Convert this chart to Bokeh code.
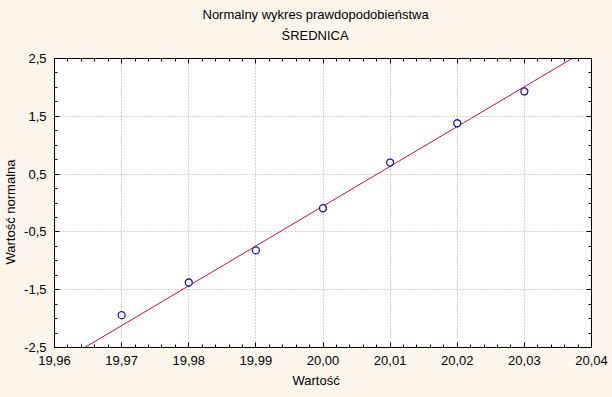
from bokeh.plotting import figure
from bokeh.models import (FixedTicker, CustomJSTickFormatter, LinearAxis, Title,
                          Range1d)
from bokeh.embed import file_html
from bokeh.resources import INLINE

# ---- data ----
x_vals = [19.97, 19.98, 19.99, 20.00, 20.01, 20.02, 20.03]
normal_vals = [-1.94, -1.375, -0.82, -0.09, 0.70, 1.38, 1.93]
fit_x = [19.9645, 20.0371]
fit_y = [-2.5, 2.5]
x_ticks = [19.96, 19.97, 19.98, 19.99, 20.00, 20.01, 20.02, 20.03, 20.04]
y_ticks = [-2.5, -1.5, -0.5, 0.5, 1.5, 2.5]
title1 = "Normalny wykres prawdopodobieństwa"
title2 = "ŚREDNICA"
xlabel = "Wartość"
ylabel = "Wartość normalna"

BG = "#FDF6EC"
FONT = "Liberation Sans"
FS = "13px"

x_minor = [round(19.96 + 0.002 * i, 4) for i in range(41)]
y_minor = [round(-2.5 + 0.25 * i, 3) for i in range(21)]

p = figure(width=612, height=397, output_backend="svg", toolbar_location=None,
           x_range=Range1d(19.96, 20.04), y_range=Range1d(-2.5, 2.5),
           frame_width=537, frame_height=289,
           min_border_left=54, min_border_right=21, min_border_top=58,
           min_border_bottom=50,
           background_fill_color="white", border_fill_color=BG,
           x_axis_location=None, y_axis_location=None)
p.outline_line_color = "black"
p.outline_line_width = 1

xt = FixedTicker(ticks=x_ticks, minor_ticks=x_minor)
yt = FixedTicker(ticks=y_ticks, minor_ticks=y_minor)
xfmt = CustomJSTickFormatter(code="return tick.toFixed(2).replace('.', ',');")
yfmt = CustomJSTickFormatter(code="return tick.toFixed(1).replace('.', ',');")


def mk_axis(ticker, fmt, labels=True, standoff=4):
    ax = LinearAxis(ticker=ticker, formatter=fmt)
    ax.axis_line_color = "black"
    ax.major_tick_in = 5
    ax.major_tick_out = 0
    ax.minor_tick_in = 3
    ax.minor_tick_out = 0
    ax.major_tick_line_color = "black"
    ax.minor_tick_line_color = "black"
    ax.major_label_text_font = FONT
    ax.major_label_text_font_size = FS
    ax.major_label_text_color = "black"
    ax.major_label_standoff = standoff
    ax.axis_label_text_font = FONT
    ax.axis_label_text_font_size = FS
    ax.axis_label_text_font_style = "normal"
    ax.axis_label_text_color = "black"
    if not labels:
        ax.major_label_text_alpha = 0
        ax.major_label_text_font_size = "1px"
    return ax


xax = mk_axis(xt, xfmt, standoff=8)
yax = mk_axis(yt, yfmt, standoff=8)
yax.axis_label = ylabel + "\u00a0" * 5
yax.axis_label_standoff = 3
p.add_layout(xax, "below")
p.add_layout(yax, "left")
top_ax = mk_axis(xt, xfmt, labels=False, standoff=0)
top_ax.axis_label = "\u00a0"          # spacer between the frame and the titles
top_ax.axis_label_text_font_size = "8px"
top_ax.axis_label_standoff = 0
p.add_layout(top_ax, "above")
p.add_layout(mk_axis(yt, yfmt, labels=False, standoff=0), "right")

p.xgrid.ticker = xt
p.ygrid.ticker = yt
for g in (p.xgrid, p.ygrid):
    g.grid_line_color = "#A8A8A8"
    g.grid_line_dash = "1 2"
    g.grid_line_width = 1

p.line(fit_x, fit_y, line_color="#C0143C", line_width=1)
p.scatter(x_vals, normal_vals, marker="circle", size=7, line_color="#1A1A9A",
          fill_color="white", line_width=1.3)

tstyle = dict(text_font=FONT, text_font_size=FS, text_font_style="normal",
              text_color="black", align="left", vertical_align="middle")
p.add_layout(Title(text=title2, offset=227, standoff=5, **tstyle), "above")
p.add_layout(Title(text=title1, offset=148, standoff=4, **tstyle), "above")
p.add_layout(Title(text=xlabel, offset=238, standoff=9, **tstyle), "below")

html = file_html(p, INLINE)
html = html.replace("<head>", "<head><style>body{background:%s}</style>" % BG, 1)
open("out.html", "w").write(html)
